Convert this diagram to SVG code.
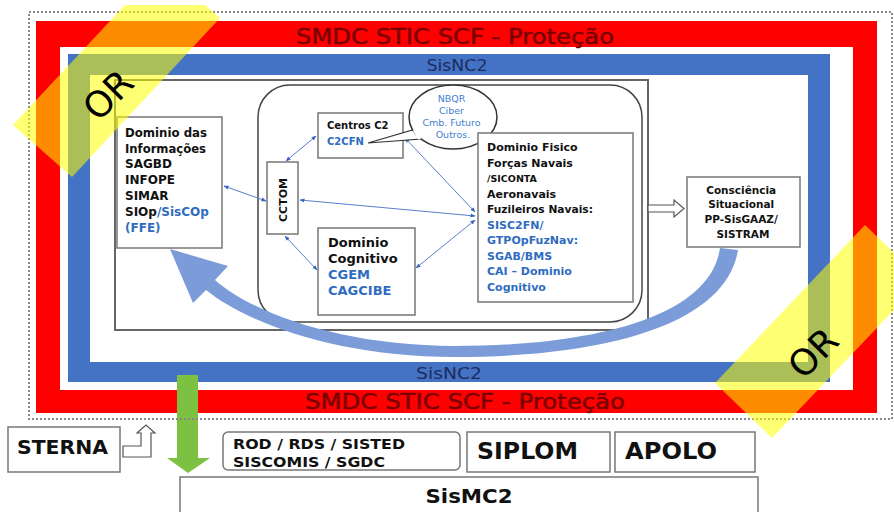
<svg xmlns="http://www.w3.org/2000/svg" width="894" height="512" viewBox="0 0 894 512">
<defs>
<style>
.box{fill:#fff;stroke:#777;stroke-width:1.5}
.bk{font-family:"DejaVu Sans",Verdana,sans-serif;font-weight:bold;fill:#111}
.bl{fill:#2f6cc0}
.band{font-family:"DejaVu Sans",Verdana,sans-serif;font-size:22px;fill:#7a0000;stroke:#7a0000;stroke-width:0.5}
.nc{font-family:"DejaVu Sans",Verdana,sans-serif;font-size:15px;fill:#1c2c5c}
.con{stroke:#5a7ed0;stroke-width:1;fill:none;marker-start:url(#ah);marker-end:url(#ah)}
.or{fill:#ffff00;fill-opacity:0.55}
.ort{font-family:"DejaVu Sans",Verdana,sans-serif;font-size:36px;fill:#000}
.hollow{fill:#fff;stroke:#555;stroke-width:1.2}
</style>
<marker id="ah" viewBox="0 0 10 10" refX="9" refY="5" markerWidth="5" markerHeight="5" orient="auto-start-reverse" markerUnits="userSpaceOnUse">
<path d="M0,1 L10,5 L0,9 Z" fill="#3a64c0"/>
</marker>
</defs>
<rect width="894" height="512" fill="#fff"/>

<g id="protecao">
<path d="M36,21 H877 V413 H36 Z M60,47 V390 H853 V47 Z" fill="#ff0000" fill-rule="evenodd"/>
<text class="band" x="455" y="44" text-anchor="middle" textLength="318" lengthAdjust="spacingAndGlyphs">SMDC STIC SCF - Proteção</text>
<text class="band" x="465" y="409" text-anchor="middle" textLength="320" lengthAdjust="spacingAndGlyphs">SMDC STIC SCF - Proteção</text>
</g>

<g id="sisnc2">
<path d="M68,54 H830 V382 H68 Z M90,75 V362 H808 V75 Z" fill="#4472c4" fill-rule="evenodd"/>
<text class="nc" x="457" y="71" text-anchor="middle" textLength="61" lengthAdjust="spacingAndGlyphs">SisNC2</text>
<text class="nc" x="449" y="379" text-anchor="middle" textLength="66" lengthAdjust="spacingAndGlyphs">SisNC2</text>
</g>

<g id="frame">
<rect x="115" y="80" width="533" height="250" fill="#fff" stroke="#666" stroke-width="2"/>
<rect x="258" y="85" width="384" height="237" rx="32" fill="none" stroke="#444" stroke-width="1.5"/>
</g>

<g id="curved-arrow">
<path d="M738,250 C725,330 590,357 455,357 C340,357 250,325 206,290 L193,303 L170,249 L228,266 L215,280 C255,315 345,346 455,346 C585,346 710,320 720,248 Z" fill="#7b9bd9"/>
</g>

<g id="connectors">
<line class="con" x1="316" y1="136" x2="286" y2="161"/>
<line class="con" x1="224" y1="186" x2="266" y2="201"/>
<line class="con" x1="300" y1="200" x2="475" y2="216"/>
<line class="con" x1="285" y1="236" x2="317" y2="270"/>
<line class="con" x1="416" y1="268" x2="475" y2="220"/>
<line class="con" x1="405" y1="138" x2="475" y2="212"/>
<path class="hollow" d="M648,205 L674,205 L674,200 L684,208.5 L674,217 L674,212 L648,212 Z"/>
<path class="hollow" d="M123,446 L141,446 L141,433 L137,433 L146,425 L155,433 L151,433 L151,457 L123,457 Z"/>
<path d="M177,375 H198 V458 H210 L188,473 L167,458 H177 Z" fill="#7dc142"/>
</g>

<g id="info">
<rect class="box" x="117" y="117" width="105" height="131"/>
<text class="bk" font-size="12">
<tspan x="125" y="137" textLength="82" lengthAdjust="spacingAndGlyphs">Dominio das</tspan>
<tspan x="125" y="153" textLength="81" lengthAdjust="spacingAndGlyphs">Informações</tspan>
<tspan x="125" y="168">SAGBD</tspan>
<tspan x="125" y="184">INFOPE</tspan>
<tspan x="125" y="200">SIMAR</tspan>
<tspan x="125" y="216">SIOp<tspan class="bl">/SisCOp</tspan></tspan>
<tspan x="125" y="232" class="bl">(FFE)</tspan>
</text>
</g>

<g id="cctom">
<rect class="box" x="267" y="162" width="31" height="72"/>
<text class="bk" font-size="11" transform="translate(287,200) rotate(-90)" text-anchor="middle">CCTOM</text>
</g>

<g id="centros">
<rect class="box" x="318" y="113" width="85" height="45"/>
<text class="bk" font-size="10">
<tspan x="327" y="129">Centros C2</tspan>
<tspan x="327" y="145" class="bl">C2CFN</tspan>
</text>
</g>

<g id="callout">
<path d="M368,143 L416,129 L421,139 Z" fill="#fff" stroke="#333" stroke-width="1.2"/>
<ellipse cx="453" cy="117" rx="44" ry="32" fill="#fff" stroke="#333" stroke-width="1.5"/>
<path d="M414,130 L420,139" stroke="#fff" stroke-width="3"/>
<text font-family="'DejaVu Sans',Verdana,sans-serif" font-size="9.5" fill="#3f7fd0" text-anchor="middle">
<tspan x="453" y="102">NBQR</tspan>
<tspan x="453" y="114">Ciber</tspan>
<tspan x="453" y="126">Cmb. Futuro</tspan>
<tspan x="453" y="138">Outros.</tspan>
</text>
</g>

<g id="cognitivo">
<rect class="box" x="318" y="228" width="97" height="87"/>
<text class="bk" font-size="13">
<tspan x="328" y="247">Dominio</tspan>
<tspan x="328" y="263">Cognitivo</tspan>
<tspan x="328" y="279" class="bl">CGEM</tspan>
<tspan x="328" y="295" class="bl">CAGCIBE</tspan>
</text>
</g>

<g id="fisico">
<rect class="box" x="478" y="133" width="155" height="169"/>
<text class="bk" font-size="11">
<tspan x="487" y="151">Dominio Fisico</tspan>
<tspan x="487" y="167">Forças Navais</tspan>
<tspan x="487" y="182" font-size="9.5">/SICONTA</tspan>
<tspan x="487" y="198">Aeronavais</tspan>
<tspan x="487" y="213" textLength="106" lengthAdjust="spacingAndGlyphs">Fuzileiros Navais:</tspan>
<tspan x="487" y="229" class="bl">SISC2FN/</tspan>
<tspan x="487" y="244" class="bl">GTPOpFuzNav:</tspan>
<tspan x="487" y="260" class="bl">SGAB/BMS</tspan>
<tspan x="487" y="275" class="bl">CAI – Dominio</tspan>
<tspan x="487" y="291" class="bl">Cognitivo</tspan>
</text>
</g>

<g id="consciencia">
<rect class="box" x="687" y="177" width="113" height="70"/>
<text class="bk" font-size="10.5" text-anchor="middle">
<tspan x="743" y="194">Consciência</tspan>
<tspan x="743" y="208">Situacional</tspan>
<tspan x="743" y="223">PP-SisGAAZ/</tspan>
<tspan x="743" y="238">SISTRAM</tspan>
</text>
</g>

<g id="sterna">
<rect class="box" x="8" y="427" width="112" height="45"/>
<text class="bk" font-size="19" x="17" y="454" textLength="91" lengthAdjust="spacingAndGlyphs">STERNA</text>
</g>

<g id="rod">
<rect class="box" x="223" y="432" width="237" height="38" rx="5"/>
<text class="bk" font-size="14">
<tspan x="233" y="449" textLength="172" lengthAdjust="spacingAndGlyphs">ROD / RDS / SISTED</tspan>
<tspan x="233" y="467" textLength="152" lengthAdjust="spacingAndGlyphs">SISCOMIS / SGDC</tspan>
</text>
</g>

<g id="siplom">
<rect class="box" x="467" y="432" width="143" height="40"/>
<text class="bk" font-size="23" x="477" y="459" textLength="101" lengthAdjust="spacingAndGlyphs">SIPLOM</text>
</g>

<g id="apolo">
<rect class="box" x="615" y="432" width="140" height="40"/>
<text class="bk" font-size="23" x="625" y="459" textLength="92" lengthAdjust="spacingAndGlyphs">APOLO</text>
</g>

<g id="sismc2">
<rect class="box" x="180" y="477" width="578" height="40"/>
<text class="bk" font-size="20" x="469" y="503" text-anchor="middle" textLength="87" lengthAdjust="spacingAndGlyphs">SisMC2</text>
</g>

<rect x="29" y="12" width="863" height="407" fill="none" stroke="#888" stroke-width="2" stroke-dasharray="2,2"/>

<g id="or-top">
<polygon class="or" points="13,125 72,177 220,18 205,5 125,5"/>
<text class="ort" transform="translate(117,104) rotate(-45)" text-anchor="middle">OR</text>
</g>
<g id="or-bottom">
<polygon class="or" points="715,383 865,225 894,253 894,310 772,438"/>
<text class="ort" transform="translate(822,362) rotate(-45)" text-anchor="middle">OR</text>
</g>
</svg>
